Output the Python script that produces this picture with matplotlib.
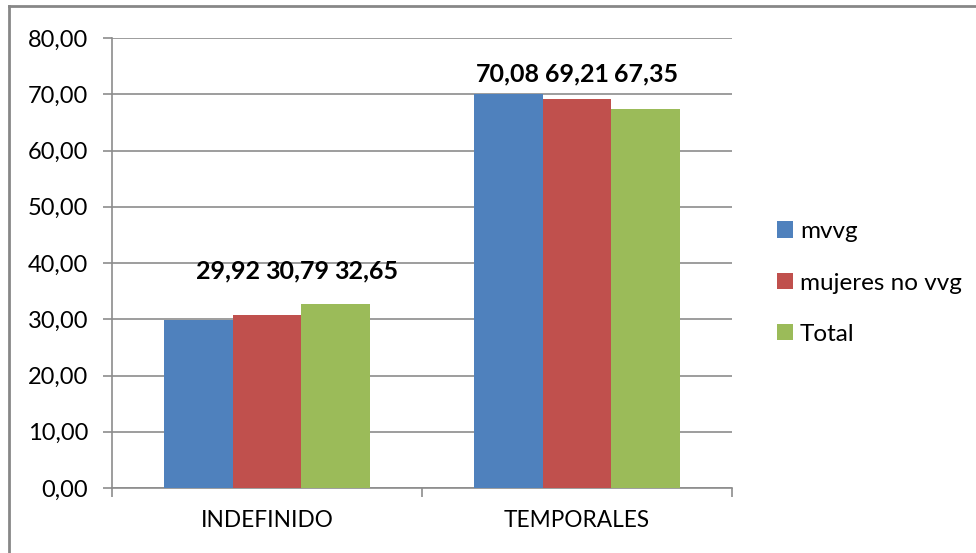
import matplotlib
matplotlib.use("Agg")
import matplotlib.pyplot as plt
from matplotlib.patches import Patch
from matplotlib.lines import Line2D
import numpy as np

categories = ["INDEFINIDO", "TEMPORALES"]
series_names = ["mvvg", "mujeres no vvg", "Total"]
mvvg = [29.92, 70.08]
mujeres_no_vvg = [30.79, 69.21]
total = [32.65, 67.35]
yticks = [0, 10, 20, 30, 40, 50, 60, 70, 80]

colors = ["#4F81BD", "#C0504D", "#9BBB59"]
label_dx_px = [30, 0]      # manual label shifts seen in the reference
label_dy_px = [33, 20]

W, H = 976, 553
DPI = 100
plt.rcParams['font.family'] = ['Lato', 'DejaVu Sans']
fig = plt.figure(figsize=(W / DPI, H / DPI), dpi=DPI)

def px2pt(p):
    return p * 72 / DPI

L, R, T, B = 112, 732, 38, 488
ax = fig.add_axes([L / W, 1 - B / H, (R - L) / W, (B - T) / H])

series = [mvvg, mujeres_no_vvg, total]
x = np.arange(len(categories)) + 0.5
bw = 0.222
for i, (vals, c) in enumerate(zip(series, colors)):
    ax.bar(x + (i - 1) * bw, vals, width=bw, color=c, zorder=3, label=series_names[i])

# data labels
for g in range(len(categories)):
    top = max(s[g] for s in series)
    for i, s in enumerate(series):
        ax.annotate(f"{s[g]:.2f}".replace(".", ","), xy=(x[g] + (i - 1) * bw, top),
                    xytext=(px2pt(label_dx_px[g]), px2pt(label_dy_px[g])),
                    textcoords="offset points", ha="center", va="center",
                    fontsize=18, fontweight="bold", color="black", zorder=5)

ax.set_xlim(0, len(categories))
ax.set_ylim(0, 80)
ax.set_yticks(yticks)
ax.set_yticklabels([f"{v:.2f}".replace(".", ",") for v in yticks], fontsize=17)
ax.yaxis.grid(True, color="#8C8C8C", linewidth=1.2, zorder=0)
ax.set_axisbelow(True)

ax.set_xticks(x)
ax.set_xticklabels(categories, fontsize=16.3)
ax.set_xticks(np.arange(len(categories) + 1), minor=True)
ax.tick_params(axis="x", which="major", length=0, pad=px2pt(22))
ax.tick_params(axis="x", which="minor", length=px2pt(9), color="#8C8C8C", width=1.2)
ax.tick_params(axis="y", length=px2pt(9), color="#8C8C8C", width=1.2, pad=px2pt(15))

for s in ["top", "right"]:
    ax.spines[s].set_visible(False)
for s in ["left", "bottom"]:
    ax.spines[s].set_color("#8C8C8C")
    ax.spines[s].set_linewidth(1.2)

handles = [Patch(facecolor=c, edgecolor="none") for c in colors]
fig.legend(handles, series_names, loc="center left",
           bbox_to_anchor=(767 / W, 1 - 283 / H), frameon=False,
           fontsize=17.5, handlelength=0.65, handleheight=0.65,
           handletextpad=0.3, labelspacing=1.25, borderaxespad=0)

# outer border (left and top visible)
fig.add_artist(Line2D([9 / W, 9 / W], [0, 1 - 6 / H], transform=fig.transFigure,
                      color="#878787", linewidth=2))
fig.add_artist(Line2D([9 / W, 1], [1 - 6 / H, 1 - 6 / H], transform=fig.transFigure,
                      color="#878787", linewidth=2))

fig.savefig("out.png", dpi=DPI)
